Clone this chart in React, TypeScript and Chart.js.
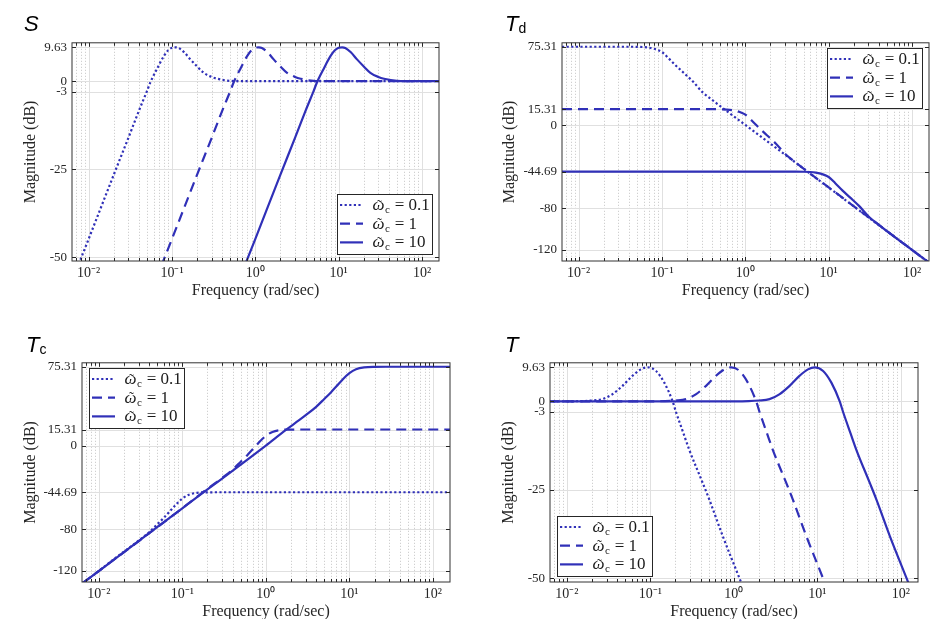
import React, { useEffect, useRef } from "react";
import { Chart, registerables } from "chart.js";

Chart.register(...registerables);

// ---------- shared axis settings ----------
const BLUE = "rgb(48, 48, 184)";
const X_MIN = 0.0063;
const X_MAX = 160;
const X_TICKS = [0.01, 0.1, 1, 10, 100];
const X_TICK_LABELS = ["10⁻²", "10⁻¹", "10⁰", "10¹", "10²"];

const ST_Y_MIN = -51;
const ST_Y_MAX = 10.9;
const ST_Y_TICKS = [-50, -25, -3, 0, 9.63];
const ST_Y_LABELS = ["-50", "-25", "-3", "0", "9.63"];

const DC_Y_MIN = -130.5;
const DC_Y_MAX = 79.1;
const DC_Y_TICKS = [-120, -80, -44.69, 0, 15.31, 75.31];
const DC_Y_LABELS = ["-120", "-80", "-44.69", "0", "15.31", "75.31"];

const WC_LABELS = ["0.1", "1", "10"];
const DASHES: number[][] = [[2.2, 2.4], [10, 6], []];

// ---------- S ----------
const S_FREQ_WC01 = [0.0063, 0.01, 0.02, 0.03, 0.04, 0.05, 0.055, 0.06, 0.066, 0.07, 0.08, 0.09, 0.1, 0.11, 0.12, 0.14, 0.166, 0.2, 0.24, 0.3, 0.35, 0.5, 0.7, 1, 160];
const S_FREQ_WC1 = [0.063, 0.1, 0.2, 0.3, 0.4, 0.5, 0.55, 0.6, 0.66, 0.7, 0.8, 0.9, 1, 1.1, 1.2, 1.4, 1.66, 2, 2.4, 3, 3.5, 5, 7, 10, 160];
const S_FREQ_WC10 = [0.63, 1, 2, 3, 4, 5, 5.5, 6, 6.6, 7, 8, 9, 10, 11, 12, 14, 16.6, 20, 24, 30, 35, 50, 70, 100, 160];
const S_DB = [-56.7, -44.7, -26.5, -16.0, -8.4, -2.8, -0.3, 1.6, 3.5, 4.7, 7.2, 8.8, 9.5, 9.63, 9.45, 8.2, 6.2, 4.2, 2.4, 1.2, 0.7, 0.1, 0.02, 0, 0];

// ---------- T_d ----------
const TD_FREQ_WC01 = [0.0063, 0.01, 0.04, 0.05, 0.06, 0.07, 0.08, 0.09, 0.1, 0.12, 0.147, 0.18, 0.233, 0.308, 0.4, 0.5, 0.7, 1, 1.6, 16, 160];
const TD_DB_WC01 = [75.31, 75.31, 75.3, 75.25, 75.0, 74.4, 73.4, 72.0, 70.2, 64.2, 57.1, 50.6, 42.2, 31.5, 24.2, 18.2, 9.4, 0.2, -12.0, -72.2, -132.0];
const TD_FREQ_WC1 = [0.0063, 0.1, 0.4, 0.5, 0.6, 0.7, 0.8, 0.9, 1, 1.2, 1.47, 1.8, 2.33, 3.08, 4, 5, 7, 10, 16, 160];
const TD_DB_WC1 = [15.31, 15.31, 15.3, 15.25, 15.0, 14.4, 13.4, 12.0, 10.2, 4.2, -2.9, -9.4, -17.8, -28.5, -35.8, -41.8, -50.6, -59.8, -72.0, -132.0];
const TD_FREQ_WC10 = [0.0063, 1, 4, 5, 6, 7, 8, 9, 10, 12, 14.7, 18, 23.3, 30.8, 40, 50, 70, 100, 160];
const TD_DB_WC10 = [-44.69, -44.69, -44.7, -44.75, -45.0, -45.6, -46.6, -48.0, -49.8, -55.8, -62.9, -69.4, -77.8, -88.5, -95.8, -101.8, -110.6, -119.8, -132.0];

// ---------- T_c ----------
const TC_FREQ_WC01 = [0.0063, 0.01, 0.0174, 0.025, 0.03, 0.04, 0.05, 0.06, 0.07, 0.08, 0.09, 0.1, 0.12, 0.15, 0.2, 0.3, 160];
const TC_DB_WC01 = [-132.0, -120.0, -105.0, -95.8, -91.0, -83.0, -75.5, -69.2, -63.4, -58.2, -54.0, -50.7, -47.0, -45.2, -44.75, -44.69, -44.69];
const TC_FREQ_WC1 = [0.0063, 0.01, 0.1, 0.174, 0.25, 0.3, 0.4, 0.5, 0.6, 0.7, 0.8, 0.9, 1, 1.2, 1.5, 2, 3, 160];
const TC_DB_WC1 = [-132.0, -120.0, -60.0, -45.0, -35.8, -31.0, -23.0, -15.5, -9.2, -3.4, 1.8, 6.0, 9.3, 13.0, 14.8, 15.25, 15.31, 15.31];
const TC_FREQ_WC10 = [0.0063, 0.01, 0.1, 1, 1.74, 2.5, 3, 4, 5, 6, 7, 8, 9, 10, 12, 15, 20, 30, 160];
const TC_DB_WC10 = [-132.0, -120.0, -60.0, 0.0, 15.0, 24.2, 29.0, 37.0, 44.5, 50.8, 56.6, 61.8, 66.0, 69.3, 73.0, 74.8, 75.25, 75.31, 75.31];

// ---------- T ----------
const T_FREQ_WC01 = [0.006, 0.01, 0.015, 0.02, 0.0267, 0.035, 0.0465, 0.061, 0.077, 0.093, 0.117, 0.147, 0.185, 0.203, 0.25, 0.294, 0.425, 0.51, 0.738, 1.17, 1.6];
const T_FREQ_WC1 = [0.006, 0.1, 0.15, 0.2, 0.267, 0.35, 0.465, 0.61, 0.77, 0.93, 1.17, 1.47, 1.85, 2.03, 2.5, 2.94, 4.25, 5.1, 7.38, 11.7, 16];
const T_FREQ_WC10 = [0.006, 1, 1.5, 2, 2.67, 3.5, 4.65, 6.1, 7.7, 9.3, 11.7, 14.7, 18.5, 20.3, 25, 29.4, 42.5, 51, 73.8, 117, 160];
const T_DB = [0, 0.02, 0.08, 0.25, 0.65, 2.0, 4.4, 7.2, 9.05, 9.63, 8.6, 5.3, 0, -3, -9.1, -13.8, -23.1, -27.8, -38.1, -50, -58.2];

type Series = { freq: number[]; db: number[] };
type Panel = {
  key: string;
  title: string;
  sub: string;
  titleLeft: number;
  titleTop: number;
  cx: number; cy: number; cw: number; ch: number;
  L: number; R: number; T: number; B: number;
  yTitleX: number; xTitleY: number;
  yMin: number; yMax: number; yTicks: number[]; yLabels: string[];
  series: Series[];
  legend: "br" | "tr" | "tl" | "bl";
};

const PANELS: Panel[] = [
  {
    key: "S", title: "S", sub: "", titleLeft: 24, titleTop: 11,
    cx: 0, cy: 30, cw: 460, ch: 271, L: 72, R: 439, T: 42, B: 261,
    yTitleX: 31, xTitleY: 291,
    yMin: ST_Y_MIN, yMax: ST_Y_MAX, yTicks: ST_Y_TICKS, yLabels: ST_Y_LABELS,
    series: [
      { freq: S_FREQ_WC01, db: S_DB },
      { freq: S_FREQ_WC1, db: S_DB },
      { freq: S_FREQ_WC10, db: S_DB },
    ],
    legend: "br",
  },
  {
    key: "Td", title: "T", sub: "d", titleLeft: 505, titleTop: 11,
    cx: 490, cy: 30, cw: 449, ch: 271, L: 562, R: 929, T: 42, B: 261,
    yTitleX: 510, xTitleY: 291,
    yMin: DC_Y_MIN, yMax: DC_Y_MAX, yTicks: DC_Y_TICKS, yLabels: DC_Y_LABELS,
    series: [
      { freq: TD_FREQ_WC01, db: TD_DB_WC01 },
      { freq: TD_FREQ_WC1, db: TD_DB_WC1 },
      { freq: TD_FREQ_WC10, db: TD_DB_WC10 },
    ],
    legend: "tr",
  },
  {
    key: "Tc", title: "T", sub: "c", titleLeft: 26, titleTop: 332,
    cx: 10, cy: 350, cw: 460, ch: 272, L: 82, R: 450, T: 362, B: 582,
    yTitleX: 31, xTitleY: 611.5,
    yMin: DC_Y_MIN, yMax: DC_Y_MAX, yTicks: DC_Y_TICKS, yLabels: DC_Y_LABELS,
    series: [
      { freq: TC_FREQ_WC01, db: TC_DB_WC01 },
      { freq: TC_FREQ_WC1, db: TC_DB_WC1 },
      { freq: TC_FREQ_WC10, db: TC_DB_WC10 },
    ],
    legend: "tl",
  },
  {
    key: "T", title: "T", sub: "", titleLeft: 505, titleTop: 332,
    cx: 478, cy: 350, cw: 461, ch: 272, L: 550, R: 918, T: 362, B: 582,
    yTitleX: 509, xTitleY: 611.5,
    yMin: ST_Y_MIN, yMax: ST_Y_MAX, yTicks: ST_Y_TICKS, yLabels: ST_Y_LABELS,
    series: [
      { freq: T_FREQ_WC01, db: T_DB },
      { freq: T_FREQ_WC1, db: T_DB },
      { freq: T_FREQ_WC10, db: T_DB },
    ],
    legend: "bl",
  },
];

const SERIF = '"Liberation Serif", "Times New Roman", serif';
const TEXT_COLOR = "#262626";

function framePlugin(p: Panel) {
  return {
    id: "frame_" + p.key,
    beforeDatasetsDraw(chart: any) {
      const { ctx, chartArea: a, scales } = chart;
      const x = scales.x;
      const y = scales.y;
      ctx.save();
      ctx.lineWidth = 1;
      // minor x grid (dotted)
      ctx.strokeStyle = "#c4c4c4";
      ctx.setLineDash([1, 2]);
      ctx.beginPath();
      for (let e = -3; e <= 2; e++) {
        for (let k = 2; k <= 9; k++) {
          const v = k * Math.pow(10, e);
          if (v <= X_MIN || v >= X_MAX) continue;
          const px = Math.round(x.getPixelForValue(v)) + 0.5;
          ctx.moveTo(px, a.top);
          ctx.lineTo(px, a.bottom);
        }
      }
      ctx.stroke();
      // major grid
      ctx.setLineDash([]);
      ctx.strokeStyle = "#e0e0e0";
      ctx.beginPath();
      X_TICKS.forEach((v) => {
        const px = Math.round(x.getPixelForValue(v)) + 0.5;
        ctx.moveTo(px, a.top);
        ctx.lineTo(px, a.bottom);
      });
      p.yTicks.forEach((v) => {
        const py = Math.round(y.getPixelForValue(v)) + 0.5;
        ctx.moveTo(a.left, py);
        ctx.lineTo(a.right, py);
      });
      ctx.stroke();
      ctx.restore();
    },
    afterDatasetsDraw(chart: any) {
      const { ctx, chartArea: a, scales } = chart;
      const x = scales.x;
      const y = scales.y;
      ctx.save();
      ctx.lineWidth = 1;
      ctx.strokeStyle = TEXT_COLOR;
      ctx.setLineDash([]);
      ctx.beginPath();
      // x ticks (inside, top and bottom)
      for (let e = -3; e <= 2; e++) {
        for (let k = 1; k <= 9; k++) {
          const v = k * Math.pow(10, e);
          if (v <= X_MIN || v >= X_MAX) continue;
          const len = k === 1 ? 4 : 3;
          const px = Math.round(x.getPixelForValue(v)) + 0.5;
          ctx.moveTo(px, a.bottom);
          ctx.lineTo(px, a.bottom - len);
          ctx.moveTo(px, a.top);
          ctx.lineTo(px, a.top + len);
        }
      }
      // y ticks (inside, left and right)
      p.yTicks.forEach((v) => {
        const py = Math.round(y.getPixelForValue(v)) + 0.5;
        ctx.moveTo(a.left, py);
        ctx.lineTo(a.left + 4, py);
        ctx.moveTo(a.right, py);
        ctx.lineTo(a.right - 4, py);
      });
      ctx.stroke();
      // box
      ctx.strokeStyle = "#333333";
      ctx.strokeRect(a.left, a.top, a.right - a.left, a.bottom - a.top);

      // legend
      const bw = 95;
      const bh = 60;
      let bx = a.left + 7;
      let by = a.top + 5;
      if (p.legend === "br") { bx = a.right - 7 - bw; by = a.bottom - 7 - bh; }
      if (p.legend === "tr") { bx = a.right - 7 - bw; by = a.top + 5; }
      if (p.legend === "tl") { bx = a.left + 7; by = a.top + 5; }
      if (p.legend === "bl") { bx = a.left + 7; by = a.bottom - 6 - bh; }
      bx = Math.round(bx);
      by = Math.round(by);
      ctx.fillStyle = "#ffffff";
      ctx.fillRect(bx, by, bw, bh);
      ctx.strokeStyle = TEXT_COLOR;
      ctx.lineWidth = 1;
      ctx.strokeRect(bx + 0.5, by + 0.5, bw, bh);
      for (let i = 0; i < 3; i++) {
        const rowY = by + 11 + i * 18.7;
        ctx.strokeStyle = BLUE;
        ctx.lineWidth = 2.2;
        ctx.setLineDash(DASHES[i]);
        ctx.beginPath();
        ctx.moveTo(bx + 3, rowY);
        ctx.lineTo(bx + 26, rowY);
        ctx.stroke();
        ctx.setLineDash([]);
        let tx = bx + 35.5;
        const base = rowY + 5;
        ctx.fillStyle = "#1a1a1a";
        ctx.textAlign = "left";
        ctx.textBaseline = "alphabetic";
        ctx.font = "italic 17px " + SERIF;
        ctx.fillText("ω", tx, base);
        const ww = ctx.measureText("ω").width;
        // tilde accent over omega
        ctx.font = "15px " + SERIF;
        ctx.textAlign = "center";
        ctx.fillText("˜", tx + ww / 2 + 1, base - 0.5);
        ctx.textAlign = "left";
        tx += ww;
        ctx.font = "11px " + SERIF;
        ctx.fillText("c", tx + 0.5, base + 3);
        tx += ctx.measureText("c").width + 1;
        ctx.font = "17px " + SERIF;
        ctx.fillText(" = " + WC_LABELS[i], tx, base);
      }
      ctx.restore();
    },
  };
}

function buildConfig(p: Panel): any {
  const titleLH = 16 * 1.2;
  return {
    type: "line",
    data: {
      datasets: p.series.map((s, i) => ({
        label: "ωc = " + WC_LABELS[i],
        data: s.freq.map((f, j) => ({ x: f, y: s.db[j] })),
        borderColor: BLUE,
        backgroundColor: BLUE,
        borderWidth: 2.2,
        borderDash: DASHES[i],
        borderCapStyle: "butt",
        pointRadius: 0,
        fill: false,
        cubicInterpolationMode: "monotone",
      })),
    },
    options: {
      animation: false,
      responsive: false,
      maintainAspectRatio: false,
      events: [],
      layout: {
        padding: { left: 0, top: p.T - p.cy, right: p.cx + p.cw - p.R, bottom: 0 },
      },
      plugins: {
        legend: { display: false },
        tooltip: { enabled: false },
        title: { display: false },
      },
      scales: {
        x: {
          type: "logarithmic",
          min: X_MIN,
          max: X_MAX,
          grid: { display: false, drawTicks: false },
          border: { display: false },
          afterBuildTicks: (sc: any) => {
            sc.ticks = X_TICKS.map((v) => ({ value: v }));
          },
          afterFit: (sc: any) => {
            sc.height = p.cy + p.ch - p.B;
          },
          ticks: {
            autoSkip: false,
            maxRotation: 0,
            minRotation: 0,
            padding: 4,
            color: TEXT_COLOR,
            font: { family: SERIF, size: 14 },
            callback: (_v: any, i: number) => X_TICK_LABELS[i],
          },
          title: {
            display: true,
            text: "Frequency (rad/sec)",
            color: TEXT_COLOR,
            font: { family: SERIF, size: 16, lineHeight: 1.2 },
            padding: { top: 0, bottom: p.cy + p.ch - p.xTitleY - titleLH / 2 },
          },
        },
        y: {
          type: "linear",
          min: p.yMin,
          max: p.yMax,
          grid: { display: false, drawTicks: false },
          border: { display: false },
          afterBuildTicks: (sc: any) => {
            sc.ticks = p.yTicks.map((v) => ({ value: v }));
          },
          afterFit: (sc: any) => {
            sc.width = p.L - p.cx;
          },
          ticks: {
            autoSkip: false,
            padding: 5,
            color: TEXT_COLOR,
            font: { family: SERIF, size: 13 },
            callback: (_v: any, i: number) => p.yLabels[i],
          },
          title: {
            display: true,
            text: "Magnitude (dB)",
            color: TEXT_COLOR,
            font: { family: SERIF, size: 16, lineHeight: 1.2 },
            padding: { top: p.yTitleX - p.cx - titleLH / 2, bottom: 0 },
          },
        },
      },
    },
    plugins: [framePlugin(p)],
  };
}

function ChartPanel({ p }: { p: Panel }) {
  const ref = useRef<HTMLCanvasElement | null>(null);
  useEffect(() => {
    if (!ref.current) return;
    const chart = new Chart(ref.current, buildConfig(p));
    return () => chart.destroy();
  }, [p]);
  return (
    <canvas
      ref={ref}
      width={p.cw}
      height={p.ch}
      style={{ position: "absolute", left: p.cx, top: p.cy, width: p.cw, height: p.ch }}
    />
  );
}

function PanelTitle({ p }: { p: Panel }) {
  return (
    <div
      style={{
        position: "absolute",
        left: p.titleLeft,
        top: p.titleTop,
        font: 'italic 22px "Liberation Sans", Arial, sans-serif',
        color: "#000",
        whiteSpace: "nowrap",
        lineHeight: "normal",
      }}
    >
      {p.title}
      {p.sub ? (
        <span style={{ fontStyle: "normal", fontSize: 14, position: "relative", top: 2 }}>{p.sub}</span>
      ) : null}
    </div>
  );
}

export default function App() {
  return (
    <div
      style={{
        position: "absolute",
        left: 0,
        top: 0,
        width: 939,
        height: 619,
        overflow: "hidden",
        background: "#ffffff",
      }}
    >
      {PANELS.map((p) => (
        <ChartPanel key={p.key} p={p} />
      ))}
      {PANELS.map((p) => (
        <PanelTitle key={"t" + p.key} p={p} />
      ))}
    </div>
  );
}
